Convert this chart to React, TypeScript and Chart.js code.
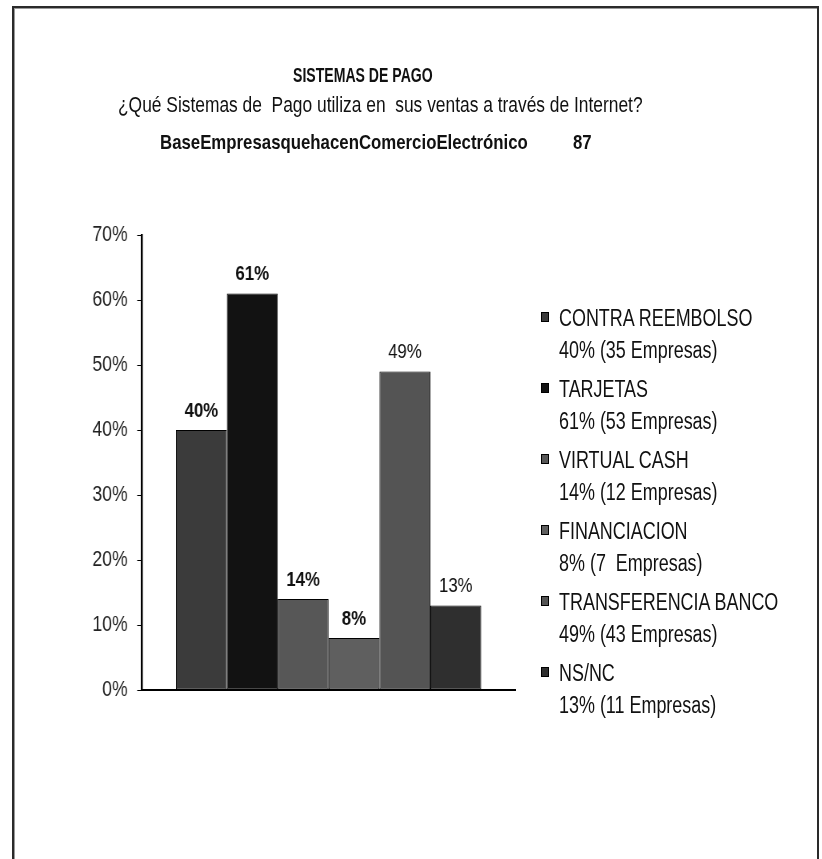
import React, { useEffect, useRef } from 'react';
import { Chart, registerables } from 'chart.js';

Chart.register(...registerables);

const FONT = "'Liberation Sans', Arial, sans-serif";
const SQUEEZE = 0.8; // horizontal condensation of the canvas (narrow-font look)
const CANVAS_W = 1028;
const CANVAS_H = 859;

const titleText = 'SISTEMAS DE PAGO';
const subtitleText = '¿Qué Sistemas de  Pago utiliza en  sus ventas a través de Internet?';
const baseText = 'BaseEmpresasquehacenComercioElectrónico';
const baseCount = '87';

const categories = ['CONTRA REEMBOLSO', 'TARJETAS', 'VIRTUAL CASH', 'FINANCIACION', 'TRANSFERENCIA BANCO', 'NS/NC'];
const values = [40, 61, 14, 8, 49, 13];
const valueLabels = ['40%', '61%', '14%', '8%', '49%', '13%'];
const labelBold = [true, true, true, true, false, false];
const legendDetails = ['40% (35 Empresas)', '61% (53 Empresas)', '14% (12 Empresas)', '8% (7  Empresas)', '49% (43 Empresas)', '13% (11 Empresas)'];
const colors = ['#3b3b3b', '#121212', '#575757', '#5f5f5f', '#545454', '#2f2f2f'];
const yMin = 0;
const yMax = 70;
const yStep = 10;

const valueLabelPlugin = {
  id: 'valueLabels',
  afterDatasetsDraw(chart: any) {
    const ctx = chart.ctx;
    chart.data.datasets.forEach((_ds: any, i: number) => {
      const meta = chart.getDatasetMeta(i);
      const el = meta.data[0];
      if (!el) return;
      ctx.save();
      ctx.font = `${labelBold[i] ? 'bold ' : ''}21px ${FONT}`;
      ctx.fillStyle = '#111';
      ctx.textAlign = 'center';
      ctx.textBaseline = 'middle';
      ctx.fillText(valueLabels[i], el.x, el.y - 19);
      ctx.restore();
    });
  },
};

export default function App() {
  const canvasRef = useRef<HTMLCanvasElement | null>(null);

  useEffect(() => {
    if (!canvasRef.current) return;
    const chart = new Chart(canvasRef.current, {
      type: 'bar',
      data: {
        labels: [''],
        datasets: categories.map((c, i) => ({
          label: c,
          data: [values[i]],
          backgroundColor: colors[i],
          borderColor: '#000',
          borderWidth: 1,
          borderSkipped: false,
          categoryPercentage: 0.818,
          barPercentage: 1,
        })),
      },
      options: {
        animation: false,
        responsive: false,
        devicePixelRatio: 1,
        layout: { padding: { left: 75, right: 384, top: 235, bottom: 169 } },
        plugins: {
          legend: { display: false },
          title: { display: false },
          tooltip: { enabled: false },
        },
        scales: {
          x: {
            grid: { display: false },
            ticks: { display: false },
            border: { display: true, color: '#000', width: 2 },
            afterFit: (s: any) => { s.height = 0; },
          },
          y: {
            min: yMin,
            max: yMax,
            ticks: {
              stepSize: yStep,
              callback: (v: any) => `${v}%`,
              font: { family: FONT, size: 22 },
              color: '#222',
              padding: 12,
            },
            grid: { drawOnChartArea: false, drawTicks: true, tickLength: 6, color: '#000' },
            border: { color: '#000', width: 2.5 },
            afterFit: (s: any) => { s.width = 102.5; },
          },
        },
      },
      plugins: [valueLabelPlugin],
    } as any);
    return () => chart.destroy();
  }, []);

  const textBase: React.CSSProperties = {
    position: 'absolute',
    whiteSpace: 'pre',
    fontFamily: FONT,
    color: '#111',
    lineHeight: '24px',
    transformOrigin: '0 0',
  };

  return (
    <div style={{ position: 'absolute', left: 0, top: 0, width: 822, height: 859, overflow: 'hidden', background: '#fff' }}>
      <div style={{ position: 'absolute', left: 12, top: 6, width: 803, height: 900, border: '2px solid #2a2a2a', boxShadow: 'inset 1px 1px 0 #999' }} />
      <canvas
        ref={canvasRef}
        width={CANVAS_W}
        height={CANVAS_H}
        style={{ position: 'absolute', left: 0, top: 0, width: CANVAS_W, height: CANVAS_H, transform: `scaleX(${SQUEEZE})`, transformOrigin: '0 0' }}
      />
      <div style={{ ...textBase, left: 293, top: 63, fontWeight: 'bold', fontSize: 21, transform: 'scaleX(0.67)' }}>{titleText}</div>
      <div style={{ ...textBase, left: 118, top: 93, fontSize: 22, transform: 'scaleX(0.79)' }}>{subtitleText}</div>
      <div style={{ ...textBase, left: 160, top: 130, fontWeight: 'bold', fontSize: 21, transform: 'scaleX(0.8)' }}>{baseText}</div>
      <div style={{ ...textBase, left: 573, top: 130, fontWeight: 'bold', fontSize: 21, transform: 'scaleX(0.8)' }}>{baseCount}</div>
      <div style={{ position: 'absolute', left: 541, top: 302 }}>
        {categories.map((c, i) => (
          <div key={c} style={{ position: 'relative', height: 64, marginBottom: 7 }}>
            <div style={{ position: 'absolute', left: 0, top: 10, width: 6, height: 8, background: colors[i], border: '1px solid #000' }} />
            <div style={{ ...textBase, left: 18, top: 0, fontSize: 23, lineHeight: '32px', transform: 'scaleX(0.78)' }}>{c}{'\n'}{legendDetails[i]}</div>
          </div>
        ))}
      </div>
    </div>
  );
}
